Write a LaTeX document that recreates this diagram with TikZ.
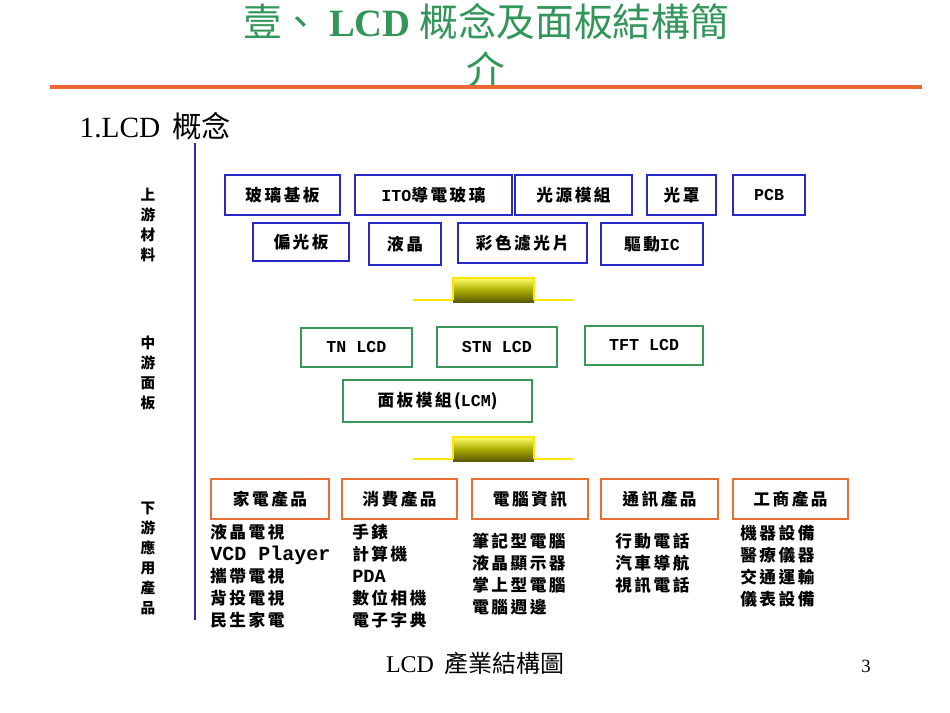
\documentclass[tikz,border=0pt]{standalone}
\usepackage{fontspec}
\setmainfont{Liberation Serif}
\newfontfamily\cjk{Noto Sans CJK TC}[LetterSpace=15]
\newfontfamily\mono{Liberation Mono}
\newfontfamily\cjkt{Noto Sans CJK TC}
\begin{document}
\begin{tikzpicture}[x=0.75pt,y=-0.75pt,
 bx/.style={draw=#1,line width=1.2pt,inner sep=0pt,font=\cjk\bfseries\fontsize{12.5}{14}\selectfont},
 lst/.style={anchor=north west,align=left,font=\cjk\bfseries\fontsize{12.5}{16.5}\selectfont,inner sep=0pt},
 side/.style={align=center,font=\cjkt\bfseries\fontsize{11}{15}\selectfont,inner sep=0pt}]
\useasboundingbox (0,0) rectangle (950,713);
\definecolor{tg}{RGB}{50,150,90}
\definecolor{bb}{RGB}{40,40,200}
\definecolor{gg}{RGB}{60,150,90}
\definecolor{oo}{RGB}{235,110,50}
\node (t1) at (486,22) {\textcolor{tg}{\fontsize{29}{32}\selectfont\cjkt 壹、 \textrm{\bfseries LCD} 概念及面板結構簡}};
\node (t2) at (486,70) {\textcolor{tg}{\fontsize{29}{32}\selectfont\cjkt 介}};
\draw[line width=2.5pt,color=oo!95!red] (50,87) -- (922,87);
\node[anchor=west] (h) at (75,126) {\fontsize{22}{26}\selectfont 1.LCD\, {\cjkt 概念}};
\draw[bb,line width=1.3pt] (195,143) -- (195,620);
\node[side] (s1) at (148,225) {上\\游\\材\\料};
\node[side] (s2) at (148,373) {中\\游\\面\\板};
\node[side] (s3) at (148,558) {下\\游\\應\\用\\產\\品};
% row1
\node[bx=bb,minimum width=115*0.75pt,minimum height=40*0.75pt] (a1) at (282.5,195) {玻璃基板};
\node[bx=bb,minimum width=157*0.75pt,minimum height=40*0.75pt] (a2) at (433.5,195) {\mono\bfseries ITO\cjk 導電玻璃};
\node[bx=bb,minimum width=117*0.75pt,minimum height=40*0.75pt] (a3) at (573.5,195) {光源模組};
\node[bx=bb,minimum width=69*0.75pt,minimum height=40*0.75pt] (a4) at (681.5,195) {光罩};
\node[bx=bb,minimum width=72*0.75pt,minimum height=40*0.75pt] (a5) at (769,195) {\mono\bfseries PCB};
\node[bx=bb,minimum width=96*0.75pt,minimum height=38*0.75pt] (b1) at (301,242) {偏光板};
\node[bx=bb,minimum width=72*0.75pt,minimum height=42*0.75pt] (b2) at (405,244) {液晶};
\node[bx=bb,minimum width=129*0.75pt,minimum height=40*0.75pt] (b3) at (522.5,243) {彩色濾光片};
\node[bx=bb,minimum width=102*0.75pt,minimum height=42*0.75pt] (b4) at (652,244) {驅動\mono\bfseries IC};
% arrows
\foreach \yy/\nm in {290/ar1,449/ar2}{
 \draw[yellow!90!orange,line width=1.5pt] (413,\yy+10) -- (573,\yy+10);
 \shade[top color=yellow!60,bottom color=olive!70!black] (453,\yy-12) rectangle (534,\yy+12);
 \draw[yellow!90!orange,line width=1pt] (453,\yy+10) -- (453,\yy-12) -- (534,\yy-12) -- (534,\yy+10);
 \coordinate (\nm) at (493,\yy);
}
% mid
\node[bx=gg,minimum width=111*0.75pt,minimum height=39*0.75pt] (c1) at (356.5,347.5) {\mono\bfseries TN LCD};
\node[bx=gg,minimum width=120*0.75pt,minimum height=40*0.75pt] (c2) at (497,347) {\mono\bfseries STN LCD};
\node[bx=gg,minimum width=118*0.75pt,minimum height=39*0.75pt] (c3) at (644,345.5) {\mono\bfseries TFT LCD};
\node[bx=gg,minimum width=189*0.75pt,minimum height=42*0.75pt] (c4) at (437.5,401) {面板模組(\mono\bfseries LCM\cjk)};
% bottom
\node[bx=oo,minimum width=118*0.75pt,minimum height=40*0.75pt] (d1) at (270,499) {家電產品};
\node[bx=oo,minimum width=115*0.75pt,minimum height=40*0.75pt] (d2) at (399.5,499) {消費產品};
\node[bx=oo,minimum width=116*0.75pt,minimum height=40*0.75pt] (d3) at (530,499) {電腦資訊};
\node[bx=oo,minimum width=117*0.75pt,minimum height=40*0.75pt] (d4) at (659.5,499) {通訊產品};
\node[bx=oo,minimum width=115*0.75pt,minimum height=40*0.75pt] (d5) at (790.5,499) {工商產品};
\node[lst] (l1) at (210,524) {液晶電視\\{\mono\bfseries\fontsize{15}{16.5}\selectfont VCD Player}\\攜帶電視\\背投電視\\民生家電};
\node[lst] (l2) at (352,524) {手錶\\計算機\\{\mono\bfseries\fontsize{14}{16.5}\selectfont PDA}\\數位相機\\電子字典};
\node[lst] (l3) at (472,533) {筆記型電腦\\液晶顯示器\\掌上型電腦\\電腦週邊};
\node[lst] (l4) at (615,533) {行動電話\\汽車導航\\視訊電話};
\node[lst] (l5) at (740,525) {機器設備\\醫療儀器\\交通運輸\\儀表設備};
\node (f1) at (475,663) {\fontsize{18}{20}\selectfont LCD\, {\cjkt 產業結構圖}};
\node (f2) at (866,666) {\fontsize{14}{16}\selectfont 3};
\end{tikzpicture}
\end{document}
